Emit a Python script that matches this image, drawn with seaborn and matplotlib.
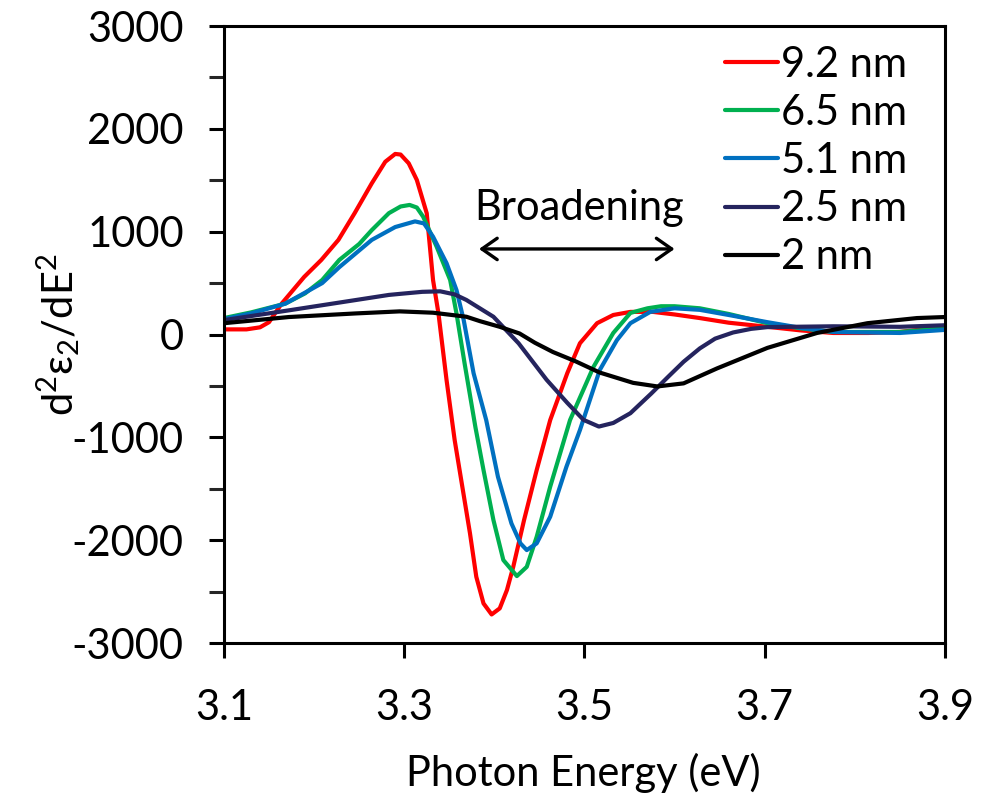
import numpy as np
import pandas as pd
import matplotlib
matplotlib.use("Agg")
import matplotlib.pyplot as plt
from matplotlib.ticker import MultipleLocator
import seaborn as sns

# Second derivative of the imaginary dielectric function for five thicknesses
labels = ["9.2 nm", "6.5 nm", "5.1 nm", "2.5 nm", "2 nm"]
colors = ["#FF0000", "#00B050", "#0070C0", "#25245E", "#000000"]

e_92 = [3.100, 3.125, 3.140, 3.150, 3.164, 3.189, 3.208, 3.227, 3.245, 3.264, 3.279, 3.290,
        3.296, 3.305, 3.314, 3.325, 3.332, 3.338, 3.347, 3.356, 3.373, 3.380, 3.388, 3.397,
        3.406, 3.414, 3.421, 3.433, 3.447, 3.462, 3.481, 3.495, 3.514, 3.532, 3.551, 3.576,
        3.600, 3.628, 3.660, 3.703, 3.740, 3.776, 3.815, 3.850, 3.900]
d_92 = [50, 50, 70, 120, 300, 560, 725, 920, 1180, 1470, 1680, 1756,
        1750, 1665, 1503, 1179, 530, 206, -443, -1027, -1934, -2356, -2615, -2722,
        -2663, -2485, -2259, -1804, -1318, -832, -375, -85, 110, 190, 220, 220,
        195, 160, 115, 75, 40, 15, 15, 25, 75]

e_65 = [3.100, 3.130, 3.168, 3.190, 3.209, 3.228, 3.250, 3.264, 3.283, 3.296, 3.306, 3.314,
        3.321, 3.336, 3.351, 3.358, 3.367, 3.379, 3.388, 3.399, 3.410, 3.425, 3.436, 3.447,
        3.462, 3.484, 3.510, 3.532, 3.551, 3.570, 3.585, 3.600, 3.628, 3.660, 3.703, 3.740,
        3.776, 3.850, 3.900]
d_65 = [160, 215, 300, 400, 530, 725, 880, 1015, 1180, 1245, 1260, 1235,
        1146, 854, 530, 206, -280, -900, -1318, -1804, -2193, -2349, -2259, -1967,
        -1480, -832, -315, 15, 210, 255, 275, 275, 255, 200, 110, 60,
        25, 25, 60]

e_51 = [3.100, 3.130, 3.168, 3.209, 3.228, 3.264, 3.290, 3.312, 3.322, 3.332, 3.347, 3.358,
        3.366, 3.377, 3.391, 3.404, 3.419, 3.429, 3.436, 3.447, 3.462, 3.480, 3.495, 3.517,
        3.536, 3.551, 3.573, 3.600, 3.628, 3.660, 3.703, 3.740, 3.776, 3.850, 3.900]
d_51 = [150, 205, 300, 500, 655, 920, 1045, 1100, 1080, 951, 693, 433,
        141, -377, -832, -1383, -1837, -2031, -2096, -2031, -1772, -1286, -929, -345,
        -55, 110, 220, 255, 240, 190, 120, 65, 25, 15, 45]

e_25 = [3.100, 3.172, 3.209, 3.246, 3.283, 3.295, 3.320, 3.340, 3.356, 3.369, 3.399, 3.427,
        3.458, 3.481, 3.499, 3.516, 3.532, 3.551, 3.574, 3.593, 3.610, 3.628, 3.645, 3.665,
        3.685, 3.703, 3.776, 3.850, 3.900]
d_25 = [140, 235, 285, 335, 385, 395, 415, 420, 390, 336, 173, -86,
        -440, -665, -830, -895, -860, -765, -575, -410, -265, -135, -40, 20,
        55, 72, 80, 75, 90]

e_20 = [3.100, 3.172, 3.246, 3.295, 3.332, 3.369, 3.384, 3.406, 3.428, 3.445, 3.465, 3.490,
        3.517, 3.554, 3.581, 3.610, 3.647, 3.703, 3.758, 3.814, 3.869, 3.900]
d_20 = [110, 170, 205, 225, 212, 173, 130, 75, 10, -80, -170, -260,
        -370, -470, -505, -475, -330, -130, 15, 110, 160, 170]

energies = [e_92, e_65, e_51, e_25, e_20]
values = [d_92, d_65, d_51, d_25, d_20]

frames = [pd.DataFrame({"E": e, "d2": d, "t": lab})
          for e, d, lab in zip(energies, values, labels)]
df = pd.concat(frames, ignore_index=True)

sns.set_style("white")
FONT = "Lato"
plt.rcParams["font.family"] = [FONT, "DejaVu Sans"]
plt.rcParams["mathtext.fontset"] = "custom"
plt.rcParams["mathtext.rm"] = FONT
plt.rcParams["mathtext.it"] = FONT
plt.rcParams["axes.unicode_minus"] = False
plt.rcParams["text.color"] = "black"
plt.rcParams["axes.labelcolor"] = "black"

FS = 30
fig = plt.figure(figsize=(9.84, 8.05), dpi=100)
ax = fig.add_axes([0.2276, 0.2012, 0.7327, 0.7665])

sns.lineplot(data=df, x="E", y="d2", hue="t", hue_order=labels,
             palette=dict(zip(labels, colors)), sort=False,
             estimator=None, linewidth=3.0, ax=ax)

ax.set_xlim(3.1, 3.9)
ax.set_ylim(-3000, 3000)
ax.set_xticks([3.1, 3.3, 3.5, 3.7, 3.9])
ax.set_yticks(np.arange(-3000, 3001, 1000))
ax.yaxis.set_minor_locator(MultipleLocator(500))
ax.tick_params(axis="both", which="major", direction="out", length=11, width=2.2,
               labelsize=FS, color="black", labelcolor="black")
ax.tick_params(axis="y", which="major", pad=18, left=True)
ax.tick_params(axis="x", which="major", pad=22, bottom=True)
ax.tick_params(axis="y", which="minor", direction="out", length=11, width=2.2, left=True)
for sp in ax.spines.values():
    sp.set_visible(True)
    sp.set_color("black")
    sp.set_linewidth(2.2)

ax.set_xlabel("")
ax.set_ylabel("")
fig.text(583 / 984, 1 - 773 / 805, "Photon Energy (eV)", fontsize=FS,
         ha="center", va="center")
fig.text(58 / 984, 1 - 335 / 805, r"d$^{2}$ε$_{2}$/dE$^{2}$", fontsize=FS,
         rotation=90, ha="center", va="center")

ax.annotate("", xy=(3.383, 832), xytext=(3.600, 832),
            arrowprops=dict(arrowstyle="<->,head_length=0.5,head_width=0.35",
                            mutation_scale=22, lw=2.4, color="black",
                            shrinkA=0, shrinkB=0))
ax.text(3.494, 1230, "Broadening", fontsize=FS, ha="center", va="center")

leg = ax.legend(loc="upper left", bbox_to_anchor=(0.689, 0.975), frameon=False,
                fontsize=FS, handlelength=1.27, handletextpad=0.08,
                labelspacing=0.245, borderaxespad=0, borderpad=0.1)
for h in leg.get_lines():
    h.set_linewidth(3.0)

fig.savefig("out.png", dpi=100, facecolor="white")
